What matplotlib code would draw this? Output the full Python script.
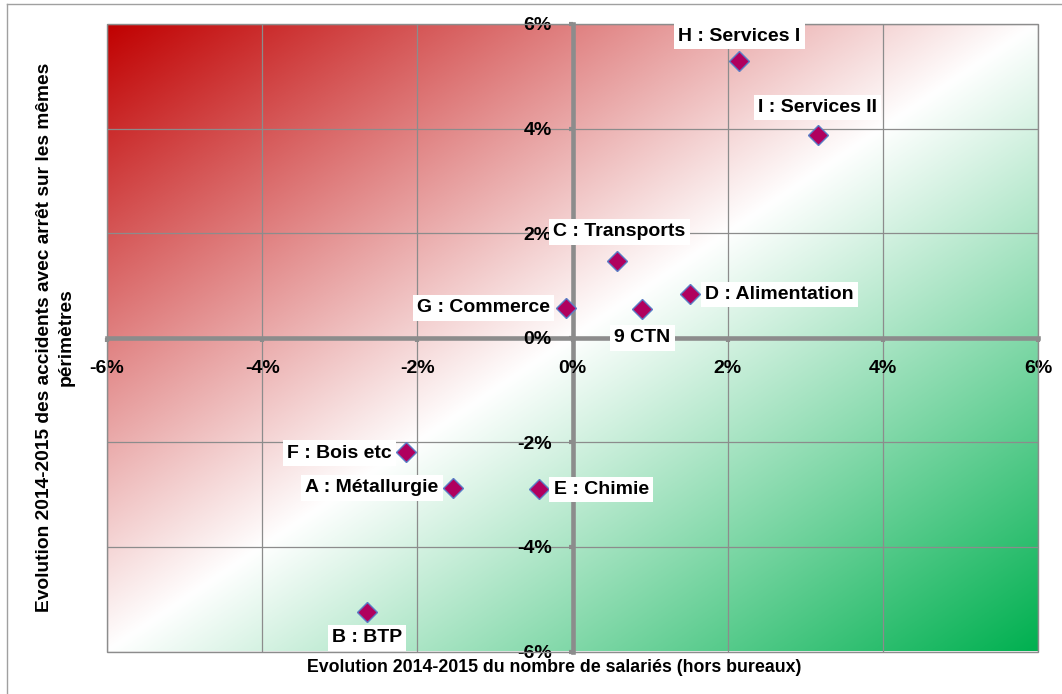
import matplotlib
matplotlib.use("Agg")
import matplotlib.pyplot as plt
import numpy as np
from matplotlib.patches import Rectangle
from matplotlib.ticker import FuncFormatter
from matplotlib import font_manager

# données (en %)
secteurs = ["H : Services I", "I : Services II", "C : Transports", "D : Alimentation",
            "G : Commerce", "9 CTN", "F : Bois etc", "A : Métallurgie", "E : Chimie", "B : BTP"]
evol_salaries = [2.14, 3.16, 0.58, 1.51, -0.09, 0.89, -2.14, -1.54, -0.43, -2.65]
evol_accidents = [5.29, 3.87, 1.47, 0.83, 0.57, 0.55, -2.19, -2.87, -2.90, -5.24]
graduations = [-6, -4, -2, 0, 2, 4, 6]

# décalage des étiquettes (pixels)
decalages = [(1, 25), (0, 28), (2, 29), (90, 0), (-82, 0), (1, -29), (-67, -1), (-81, 0), (62, 0), (0, -26)]

noms = [f.name for f in font_manager.fontManager.ttflist]
police = ["Liberation Sans Narrow", "Liberation Sans", "DejaVu Sans"]
police = [p for p in police if p in noms] or ["DejaVu Sans"]
plt.rcParams['font.family'] = police
plt.rcParams['font.weight'] = 'bold'

fig = plt.figure(figsize=(10.62, 6.94), dpi=100)
ax = fig.add_axes([107/1062, 1 - 651.5/694, 931/1062, 627.5/694])

# fond dégradé rouge -> blanc -> vert
n = 400
u = np.linspace(0, 1, n)
uu, vv = np.meshgrid(u, u)
t = (uu + vv) / 2
rouge = np.array([192, 0, 0]) / 255
vert = np.array([0, 176, 80]) / 255
blanc = np.ones(3)
img = np.zeros((n, n, 3))
for k in range(3):
    img[..., k] = np.where(t < 0.5,
                           rouge[k] + (blanc[k] - rouge[k]) * (t / 0.5),
                           blanc[k] + (vert[k] - blanc[k]) * ((t - 0.5) / 0.5))
ax.imshow(img, extent=[-6, 6, -6, 6], origin='upper', aspect='auto', zorder=0)

ax.set_xlim(-6, 6)
ax.set_ylim(-6, 6)
ax.set_xticks(graduations)
ax.set_yticks(graduations)
ax.grid(True, color='#8c8c8c', linewidth=0.9, zorder=1)
ax.set_axisbelow(False)

for s in ['left', 'bottom']:
    ax.spines[s].set_position('zero')
    ax.spines[s].set_color('#8c8c8c')
    ax.spines[s].set_linewidth(3.3)
    ax.spines[s].set_zorder(2)
ax.spines['top'].set_visible(False)
ax.spines['right'].set_visible(False)
ax.add_patch(Rectangle((0, 0), 1, 1, transform=ax.transAxes, fill=False,
                       edgecolor='#8c8c8c', linewidth=1, zorder=3, clip_on=False))

fmt = FuncFormatter(lambda v, p: '%d%%' % v)
ax.xaxis.set_major_formatter(fmt)
ax.yaxis.set_major_formatter(fmt)
ax.tick_params(axis='both', direction='out', length=3, width=3, color='#8c8c8c',
               labelsize=14)
ax.tick_params(axis='x', pad=13)
ax.tick_params(axis='y', pad=12)
for lab in ax.get_xticklabels() + ax.get_yticklabels():
    lab.set_fontweight('bold')
    lab.set_zorder(7)

ax.plot(evol_salaries, evol_accidents, linestyle='none', marker='D', markersize=10,
        markerfacecolor='#b0005e', markeredgecolor='#5a7ec6', markeredgewidth=1, zorder=5)

for nom, x, y, d in zip(secteurs, evol_salaries, evol_accidents, decalages):
    ax.annotate(nom, (x, y), xytext=d, textcoords='offset pixels', ha='center', va='center',
                fontsize=14, fontweight='bold', zorder=6,
                bbox=dict(boxstyle='square,pad=0.22', facecolor='white', edgecolor='none'))

fig.text(554/1062, 1 - 668/694, "Evolution 2014-2015 du nombre de salariés (hors bureaux)",
         ha='center', va='center', fontsize=12.8, fontweight='bold')
fig.text(55/1062, 1 - 337/694, "Evolution 2014-2015 des accidents avec arrêt sur les mêmes\npérimètres",
         ha='center', va='center', rotation=90, fontsize=13.8, fontweight='bold', linespacing=1.35)

fig.add_artist(plt.Line2D([7/1062, 7/1062], [0, 1 - 4/694], transform=fig.transFigure,
                          color='#a0a0a0', linewidth=1))
fig.add_artist(plt.Line2D([7/1062, 1], [1 - 4/694, 1 - 4/694], transform=fig.transFigure,
                          color='#a0a0a0', linewidth=1))

fig.savefig("out.png", dpi=100)
